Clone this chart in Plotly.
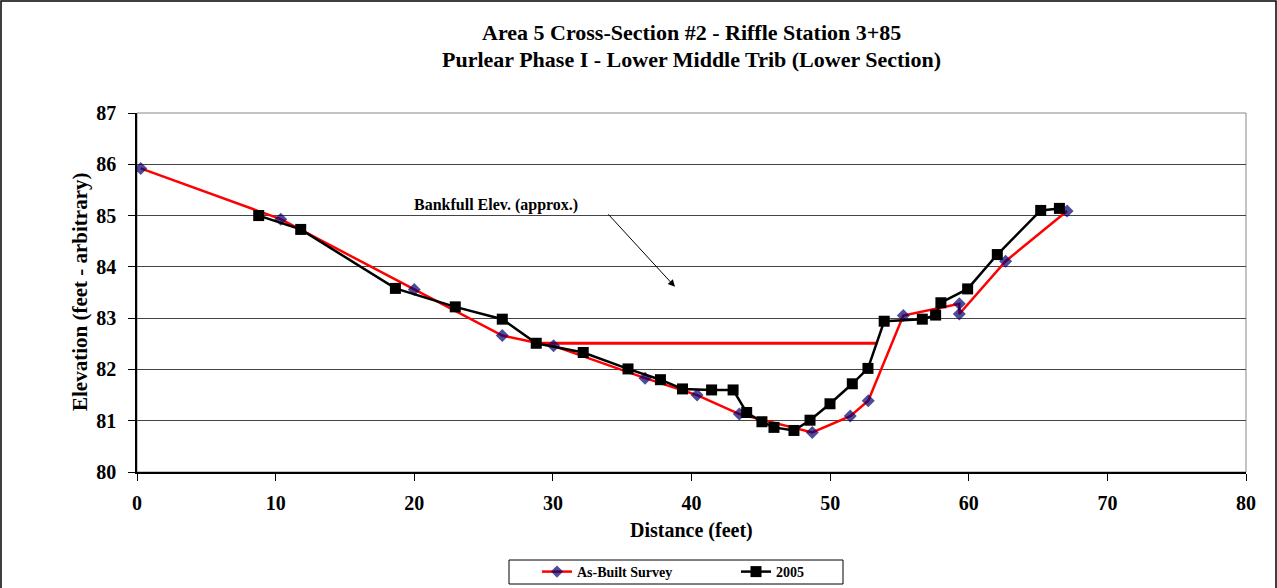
import plotly.graph_objects as go

# as-built survey (red line, navy diamonds)
asbuilt_x = [0.27, 10.37, 20.0, 26.35, 28.8, 30.05, 36.65, 40.4, 43.45, 48.71,
             51.45, 52.75, 55.28, 59.32, 59.32, 62.66, 67.09]
asbuilt_y = [85.92, 84.93, 83.56, 82.66, 82.52, 82.46, 81.83, 81.5, 81.13, 80.77,
             81.09, 81.39, 83.05, 83.28, 83.08, 84.11, 85.09]
asbuilt_mark = [True, True, True, True, False, True, True, True, True, True,
                True, True, True, True, True, True, True]

# 2005 survey (black line, squares)
y2005_x = [8.78, 11.81, 18.64, 22.96, 26.35, 28.8, 32.19, 35.42, 37.76, 39.35,
           41.45, 43.0, 43.98, 45.08, 45.95, 47.39, 48.55, 49.99, 51.6, 52.73,
           53.9, 56.65, 57.61, 57.99, 59.92, 62.06, 65.19, 66.54]
y2005_y = [85.0, 84.73, 83.58, 83.22, 82.98, 82.51, 82.33, 82.01, 81.8, 81.62,
           81.6, 81.6, 81.16, 80.98, 80.87, 80.81, 81.01, 81.33, 81.72, 82.02,
           82.94, 82.98, 83.06, 83.3, 83.57, 84.24, 85.1, 85.14]

# bankfull elevation line
bank_x = [28.8, 53.4]
bank_y = [82.51, 82.51]

title_lines = ["Area 5 Cross-Section #2 - Riffle Station 3+85",
               "Purlear Phase I - Lower Middle Trib (Lower Section)"]

FONT = "Liberation Serif"
W, H = 1277, 588
L, R, T, B = 137, 31, 113, 116
PW, PH = W - L - R, H - T - B


def px(x):  # pixel x -> paper
    return (x - L) / PW


def py(y):  # pixel y -> paper
    return (H - B - y) / PH


fig = go.Figure()

fig.add_trace(go.Scatter(
    x=bank_x, y=bank_y, mode="lines", showlegend=False,
    line=dict(color="#FF0000", width=3), hoverinfo="skip"))

fig.add_trace(go.Scatter(
    x=asbuilt_x, y=asbuilt_y, mode="lines+markers", name="As-Built Survey",
    line=dict(color="#FF0000", width=2.5),
    marker=dict(symbol="diamond", size=[10 if m else 0 for m in asbuilt_mark],
                color="#000070", line=dict(width=0))))

fig.add_trace(go.Scatter(
    x=y2005_x, y=y2005_y, mode="lines+markers", name="2005",
    line=dict(color="#000000", width=2.5),
    marker=dict(symbol="square", size=11, color="#000000", line=dict(width=0))))

# bankfull label + arrow
fig.add_annotation(x=38.81, y=83.61, ax=-68, ay=-74, text="",
                   showarrow=True, arrowhead=2, arrowsize=1.4, arrowwidth=1,
                   arrowcolor="black")
fig.add_annotation(x=25.9, y=85.21, text="<b>Bankfull Elev. (approx.)</b>",
                   showarrow=False, font=dict(family=FONT, size=16, color="black"))

# titles
for txt, yy in zip(title_lines, [32, 59.5]):
    fig.add_annotation(xref="paper", yref="paper", x=0.5, y=py(yy),
                       xanchor="center", yanchor="middle", showarrow=False,
                       text="<b>" + txt + "</b>",
                       font=dict(family=FONT, size=22, color="black"))
fig.add_annotation(xref="paper", yref="paper", x=0.5, y=py(530),
                   xanchor="center", yanchor="middle", showarrow=False,
                   text="<b>Distance (feet)</b>",
                   font=dict(family=FONT, size=20, color="black"))
fig.add_annotation(xref="paper", yref="paper", x=px(80), y=py(292),
                   xanchor="center", yanchor="middle", showarrow=False,
                   textangle=-90, text="<b>Elevation (feet - arbitrary)</b>",
                   font=dict(family=FONT, size=21, color="black"))

# outer chart border
fig.add_shape(type="rect", xref="paper", yref="paper",
              x0=px(1), x1=px(1276), y0=py(600), y1=py(1),
              line=dict(color="black", width=1.5))
# gray plot-area frame
fig.add_shape(type="rect", xref="paper", yref="paper", x0=0, x1=1, y0=0, y1=1,
              line=dict(color="#888888", width=1), layer="below")
# legend box
fig.add_shape(type="rect", xref="paper", yref="paper",
              x0=px(509), x1=px(843), y0=py(584), y1=py(560),
              line=dict(color="black", width=1))

fig.update_layout(
    width=W, height=H,
    margin=dict(l=L, r=R, t=T, b=B, autoexpand=False),
    paper_bgcolor="white", plot_bgcolor="white",
    font=dict(family=FONT, color="black"),
    xaxis=dict(range=[0, 80], dtick=10, showgrid=False, zeroline=False,
               showline=True, linecolor="black", linewidth=1.5,
               ticks="outside", ticklen=7, tickcolor="black",
               ticklabelstandoff=5,
               tickfont=dict(family=FONT, size=20, weight="bold")),
    yaxis=dict(range=[80, 87], dtick=1, showgrid=True, gridcolor="#444444",
               gridwidth=1, zeroline=False,
               showline=True, linecolor="black", linewidth=1.5,
               ticks="outside", ticklen=7, tickcolor="black",
               ticklabelstandoff=8,
               tickfont=dict(family=FONT, size=20, weight="bold")),
    legend=dict(orientation="h", xref="container", yref="container",
                x=537 / W, y=1 - 572 / H,
                xanchor="left", yanchor="middle",
                bgcolor="rgba(0,0,0,0)", borderwidth=0,
                entrywidth=154, font=dict(family=FONT, size=14, weight="bold")),
)

fig.write_html("out.html", config={"displayModeBar": False},
               post_script="document.body.style.margin='0px';")
